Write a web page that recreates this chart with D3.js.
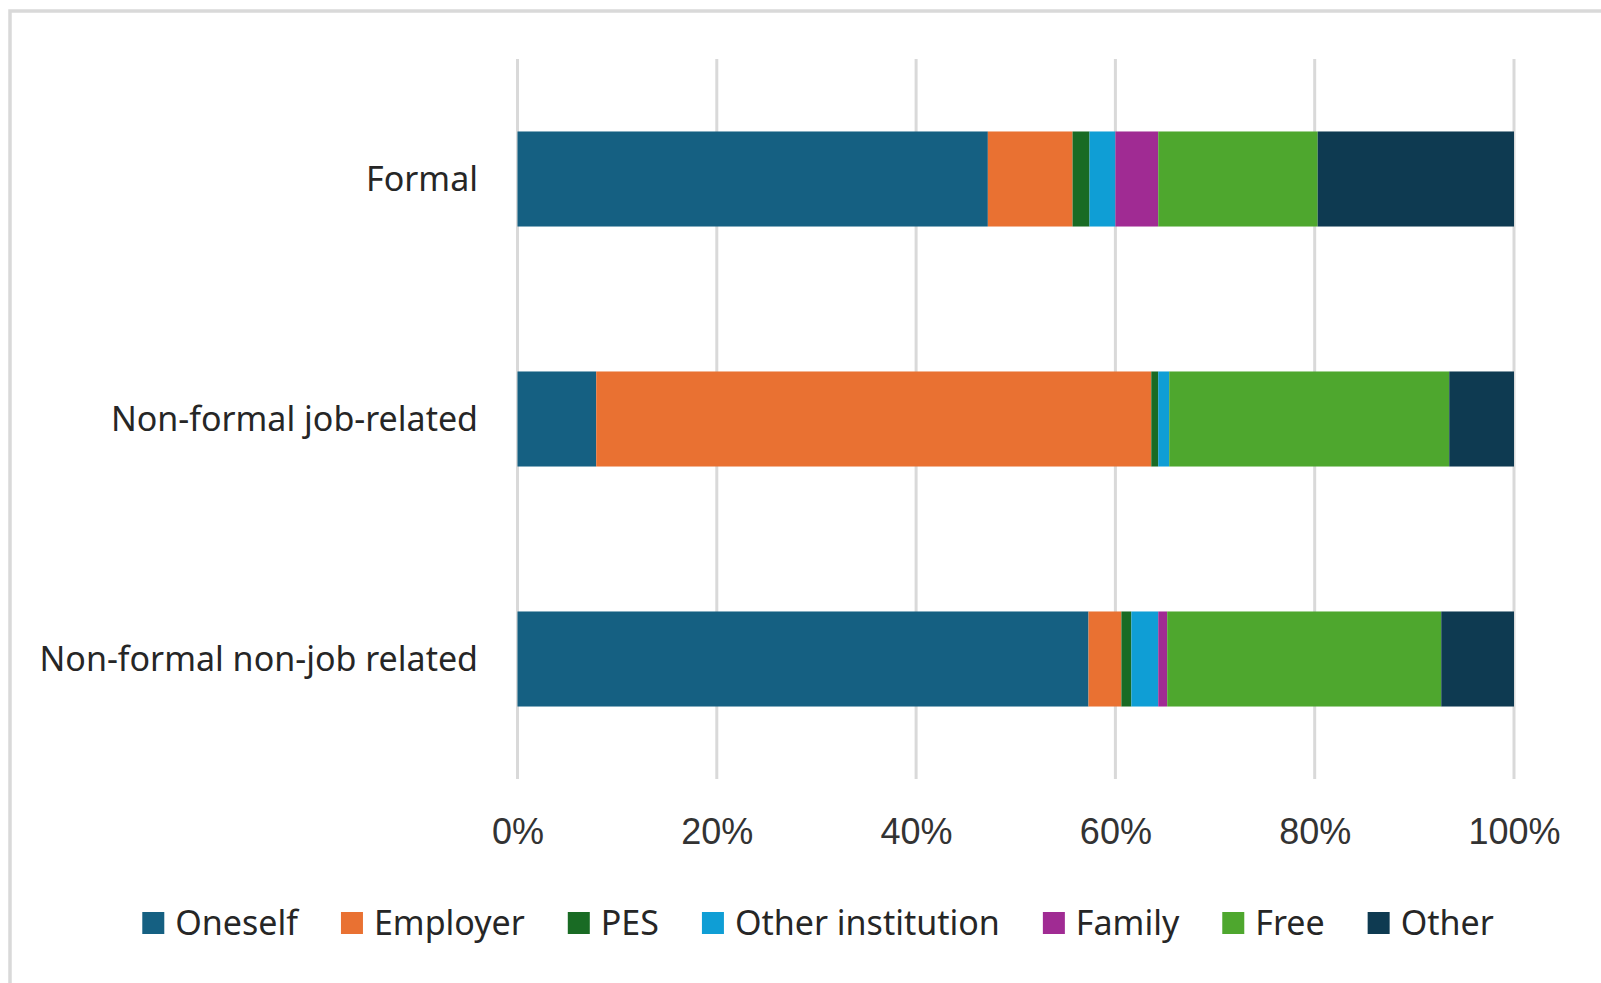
<!DOCTYPE html>
<html>
<head>
<meta charset="utf-8">
<script src="https://cdn.jsdelivr.net/npm/d3@7"></script>
<style>
  body { margin: 0; background: #fff; }
  svg { display: block; }
</style>
</head>
<body>
<svg width="1601" height="983"></svg>
<script>
// categories and series (percent of participants)
const categories = ["Formal", "Non-formal job-related", "Non-formal non-job related"];
const seriesNames = ["Oneself", "Employer", "PES", "Other institution", "Family", "Free", "Other"];
const oneself   = [47.2,  7.9, 57.3];
const employer  = [ 8.5, 55.7,  3.3];
const pes       = [ 1.7,  0.7,  1.0];
const otherInst = [ 2.6,  1.1,  2.7];
const family    = [ 4.3,  0.0,  0.9];
const free      = [16.0, 28.1, 27.5];
const other     = [19.7,  6.5,  7.3];
const tickValues = [0, 20, 40, 60, 80, 100];
const colors = ["#156082", "#e97132", "#196b24", "#0f9ed5", "#a02b93", "#4ea72e", "#0e3a51"];

const seriesValues = [oneself, employer, pes, otherInst, family, free, other];

// build rows for d3.stack
const rows = categories.map(function(c, i) {
  const r = { cat: c };
  seriesNames.forEach(function(s, j) { r[s] = seriesValues[j][i]; });
  return r;
});

const svg = d3.select("svg");

// chart frame (right edge runs off the page in the original)
svg.append("rect")
   .attr("x", 10).attr("y", 11)
   .attr("width", 1660).attr("height", 1000)
   .attr("fill", "#fff")
   .attr("stroke", "#d9d9d9")
   .attr("stroke-width", 3.5);

const xScale = d3.scaleLinear().domain([0, 100]).range([517.5, 1514]);
const yScale = d3.scaleBand().domain(categories).range([59, 779])
                 .paddingInner(0.604).paddingOuter(0.302);

// gridlines
svg.append("g")
   .selectAll("line")
   .data(tickValues)
   .enter()
   .append("line")
   .attr("x1", function(d) { return xScale(d); })
   .attr("x2", function(d) { return xScale(d); })
   .attr("y1", 59)
   .attr("y2", 779)
   .attr("stroke", "#d9d9d9")
   .attr("stroke-width", 3);

// stacked bars
const stacked = d3.stack().keys(seriesNames)(rows);
const layers = svg.append("g")
   .selectAll("g")
   .data(stacked)
   .enter()
   .append("g")
   .attr("fill", function(d, i) { return colors[i]; });

layers.selectAll("rect")
   .data(function(d) { return d; })
   .enter()
   .append("rect")
   .attr("x", function(d) { return xScale(d[0]); })
   .attr("width", function(d) { return xScale(d[1]) - xScale(d[0]); })
   .attr("y", function(d) { return yScale(d.data.cat); })
   .attr("height", yScale.bandwidth());

// x axis labels
const xAxis = svg.append("g")
   .attr("transform", "translate(0,815)")
   .call(d3.axisBottom(xScale).tickValues(tickValues).tickSize(0)
           .tickFormat(function(d) { return d + "%"; }));
xAxis.select(".domain").remove();
xAxis.selectAll("text")
   .attr("fill", "#333")
   .style("font-family", "'Liberation Sans', Arial, sans-serif")
   .style("font-size", "36px");

// category labels
svg.append("g")
   .selectAll("text")
   .data(categories)
   .enter()
   .append("text")
   .attr("x", 478)
   .attr("y", function(d) { return yScale(d) + yScale.bandwidth() / 2; })
   .attr("dy", "0.35em")
   .attr("text-anchor", "end")
   .attr("fill", "#262626")
   .style("font-family", "'Noto Sans', sans-serif")
   .style("font-size", "34px")
   .text(function(d) { return d; });

// legend, centred on the chart area
const legend = svg.append("g");
const items = legend.selectAll("g")
   .data(seriesNames)
   .enter()
   .append("g");
items.append("rect")
   .attr("width", 22).attr("height", 22)
   .attr("y", -11)
   .attr("fill", function(d, i) { return colors[i]; });
items.append("text")
   .attr("x", 33)
   .attr("dy", "0.35em")
   .attr("fill", "#262626")
   .style("font-family", "'Noto Sans', sans-serif")
   .style("font-size", "34px")
   .text(function(d) { return d; });

let offset = 0;
const gap = 43;
items.each(function() {
  const w = 33 + d3.select(this).select("text").node().getComputedTextLength();
  d3.select(this).attr("transform", "translate(" + offset + ",0)");
  offset += w + gap;
});
const total = offset - gap;
legend.attr("transform", "translate(" + (818 - total / 2) + ",923)");
</script>
</body>
</html>
